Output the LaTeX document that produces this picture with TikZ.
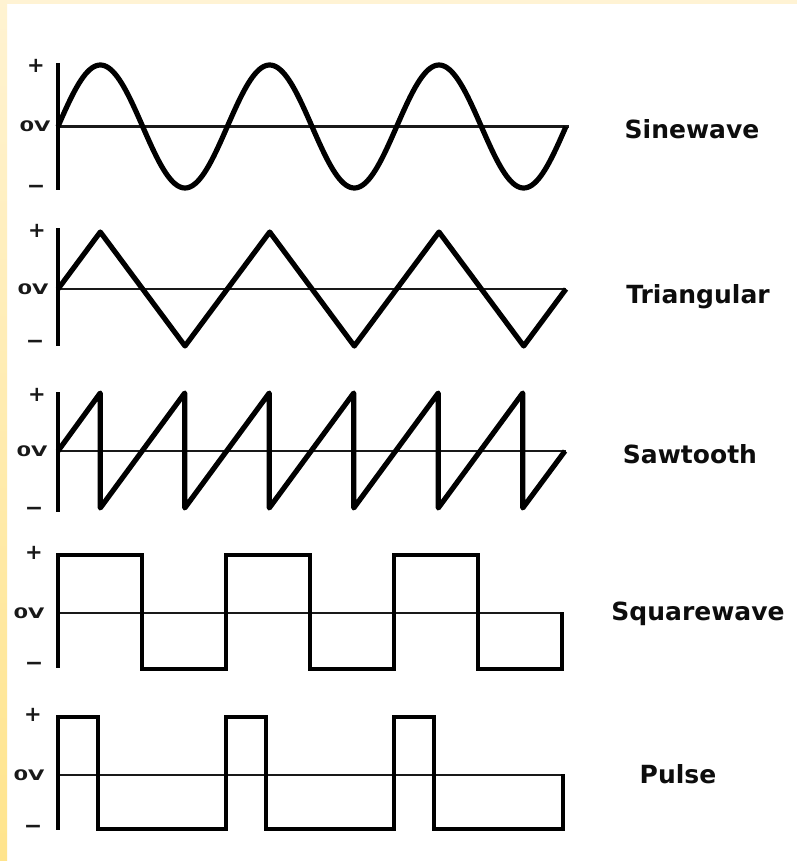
\documentclass[tikz,border=0pt]{standalone}
\usepackage{fontspec}
\setmainfont{DejaVu Sans}
\definecolor{stripTop}{RGB}{255,243,210}
\definecolor{stripBot}{RGB}{255,228,140}
\definecolor{topStrip}{RGB}{255,243,212}
\begin{document}
\begin{tikzpicture}[x=1pt,y=-1pt,
  wave/.style={line width=5.2pt, black, line join=round},
  sqwave/.style={line width=4.8pt, black, line join=miter},
  axisline/.style={line width=4.4pt, black},
  zeroline/.style={line width=2.2pt, black!90},
  wname/.style={font=\fontsize{25}{30}\selectfont\bfseries, text=black!95, anchor=base, inner sep=0pt},
  pluslab/.style={font=\fontsize{21}{22}\selectfont\bfseries, text=black!90, inner sep=0pt},
  minuslab/.style={font=\fontsize{22}{22}\selectfont\bfseries, text=black!90, inner sep=0pt},
  zerolab/.style={font=\fontsize{14.5}{16}\selectfont\bfseries, text=black!90, inner sep=0pt, xscale=1.45}
]
\useasboundingbox (0,0) rectangle (797,861);
\fill[white] (0,0) rectangle (797,861);
\shade[top color=stripTop, bottom color=stripBot] (0,0) rectangle (7,861);
\fill[topStrip] (7,0) rectangle (797,4);

% ---------- Sinewave ----------
\draw[zeroline] (58,126.5) -- (569,126.5);
\draw[wave] plot[domain=0:3, samples=241, smooth] ({58+169.33*\x},{126.5-61.5*sin(360*\x)});
\draw[axisline] (58,63) -- (58,190);
\node[pluslab]  (s+) at (36,66) {+};
\node[zerolab]  (s0) at (35,126.5) {0V};
\node[minuslab] (s-) at (36,189) {−};
\node[wname] (sinename) at (692,139) {Sinewave};

% ---------- Triangular ----------
\draw[zeroline] (58,289) -- (566,289);
\draw[wave] (58,289) -- (100.3,232) -- (185,346) -- (269.7,232) -- (354.3,346) -- (439,232) -- (523.7,346) -- (566,289);
\draw[axisline] (58,228) -- (58,346);
\node[pluslab]  (t+) at (37,231) {+};
\node[zerolab]  (t0) at (33,289) {0V};
\node[minuslab] (t-) at (35,344) {−};
\node[wname] (triname) at (698,303) {Triangular};

% ---------- Sawtooth ----------
\draw[zeroline] (58,451) -- (566,451);
\draw[wave] (58,451) -- (100.25,393) -- (100.25,508) -- (184.75,393) -- (184.75,508)
  -- (269.25,393) -- (269.25,508) -- (353.75,393) -- (353.75,508)
  -- (438.25,393) -- (438.25,508) -- (522.75,393) -- (522.75,508) -- (565,451);
\draw[axisline] (58,392) -- (58,512);
\node[pluslab]  (w+) at (37,395) {+};
\node[zerolab]  (w0) at (32,451) {0V};
\node[minuslab] (w-) at (34,511) {−};
\node[wname] (sawname) at (690,463) {Sawtooth};

% ---------- Squarewave ----------
\draw[zeroline] (58,613) -- (562,613);
\draw[sqwave] (58,555) -- (142,555) -- (142,669) -- (226,669) -- (226,555) -- (310,555)
  -- (310,669) -- (394,669) -- (394,555) -- (478,555) -- (478,669) -- (562,669) -- (562,612);
\draw[axisline] (58,553) -- (58,668);
\node[pluslab]  (q+) at (34,553) {+};
\node[zerolab]  (q0) at (29,613) {0V};
\node[minuslab] (q-) at (34,666) {−};
\node[wname] (sqname) at (698,620) {Squarewave};

% ---------- Pulse ----------
\draw[zeroline] (58,775) -- (563,775);
\draw[sqwave] (58,717) -- (98,717) -- (98,829) -- (226,829) -- (226,717) -- (266,717)
  -- (266,829) -- (394,829) -- (394,717) -- (434,717) -- (434,829) -- (563,829) -- (563,774);
\draw[axisline] (58,715) -- (58,830);
\node[pluslab]  (p+) at (33,715) {+};
\node[zerolab]  (p0) at (29,775) {0V};
\node[minuslab] (p-) at (33,829) {−};
\node[wname] (pulsename) at (678,783) {Pulse};
\end{tikzpicture}
\end{document}
